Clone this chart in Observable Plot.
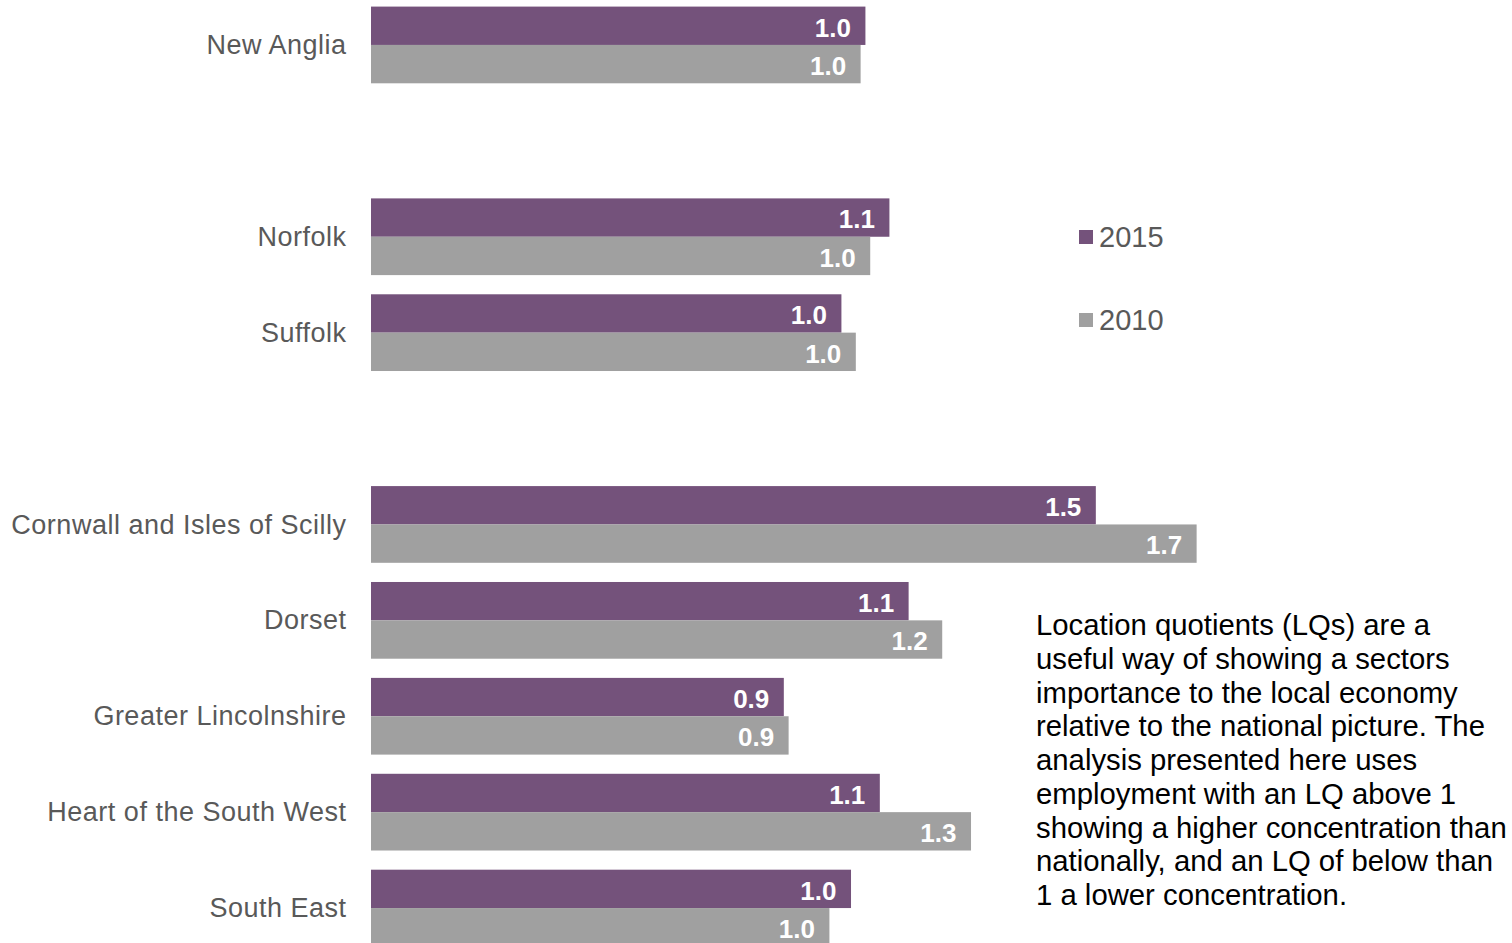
<!DOCTYPE html>
<html>
<head>
<meta charset="utf-8">
<script src="https://cdn.jsdelivr.net/npm/d3@7"></script>
<script src="https://cdn.jsdelivr.net/npm/@observablehq/plot@0.6"></script>
<style>
  html, body { margin: 0; padding: 0; background: #fff; overflow: hidden; }
  body { width: 1512px; height: 943px; position: relative; font-family: "Liberation Sans", Arial, sans-serif; }
  #chart { position: absolute; left: 0; top: -3px; }
  #chart g[aria-label="fy-axis tick label"] text { letter-spacing: 0.5px; }
  .legend { position: absolute; left: 1079px; font-size: 29px; color: #595959; display: flex; align-items: center; height: 30px; }
  .legend .sw { width: 14px; height: 14px; margin-right: 6px; }
  #note { position: absolute; left: 1036px; top: 608px; font-size: 29.3px; line-height: 33.75px; color: #000; white-space: pre; }
</style>
</head>
<body>
<div id="chart"></div>
<div id="legend"></div>
<div id="note"></div>
<script>
// Row order, with blank rows separating the groups
const rows = ["New Anglia", "gap-1", "Norfolk", "Suffolk", "gap-2",
  "Cornwall and Isles of Scilly", "Dorset", "Greater Lincolnshire", "Heart of the South West", "South East"];
const regions = ["New Anglia", "Norfolk", "Suffolk",
  "Cornwall and Isles of Scilly", "Dorset", "Greater Lincolnshire", "Heart of the South West", "South East"];
const years = ["2015", "2010"];
const lq2015 = [1.03, 1.08, 0.98, 1.51, 1.12, 0.86, 1.06, 1.00];
const lq2010 = [1.02, 1.04, 1.01, 1.72, 1.19, 0.87, 1.25, 0.955];
const colors = ["#74527b", "#a0a0a0"];
const noteLines = [
  "Location quotients (LQs) are a",
  "useful way of showing a sectors",
  "importance to the local economy",
  "relative to the national picture. The",
  "analysis presented here uses",
  "employment with an LQ above 1",
  "showing a higher concentration than",
  "nationally, and an LQ of below than",
  "1 a lower concentration."
];

const data = [];
regions.forEach((r, i) => {
  data.push({region: r, year: "2015", value: lq2015[i]});
  data.push({region: r, year: "2010", value: lq2010[i]});
});

const chart = Plot.plot({
  width: 1512,
  height: 959,
  marginLeft: 371,
  marginRight: 0,
  marginTop: 0,
  marginBottom: 0,
  style: {fontFamily: "'Liberation Sans', Arial, sans-serif", fontSize: "27px", color: "#595959", background: "#fff"},
  x: {domain: [0, 2.377], axis: null},
  y: {domain: years, padding: 0, round: false, axis: null},
  fy: {domain: rows, paddingInner: 0.2, paddingOuter: 0.1, round: false, axis: null},
  color: {domain: years, range: colors},
  marks: [
    Plot.axisFy({
      anchor: "left",
      tickSize: 0, tickPadding: 25, label: null, fontSize: 27,
      tickFormat: d => d.startsWith("gap") ? "" : d
    }),
    Plot.barX(data, {x: "value", y: "year", fy: "region", fill: "year"}),
    Plot.text(data, {
      x: "value", y: "year", fy: "region",
      text: d => d.value.toFixed(1),
      textAnchor: "end", dx: -15, dy: 2, fill: "white",
      fontWeight: "bold", fontSize: 26
    })
  ]
});
document.getElementById("chart").appendChild(chart);

// Legend
const legendTops = [222, 305];
const legend = document.getElementById("legend");
years.forEach((y, i) => {
  const div = document.createElement("div");
  div.className = "legend";
  div.style.top = legendTops[i] + "px";
  const sw = document.createElement("span");
  sw.className = "sw";
  sw.style.background = colors[i];
  const t = document.createElement("span");
  t.textContent = y;
  div.appendChild(sw);
  div.appendChild(t);
  legend.appendChild(div);
});

document.getElementById("note").textContent = noteLines.join("\n");
</script>
</body>
</html>
